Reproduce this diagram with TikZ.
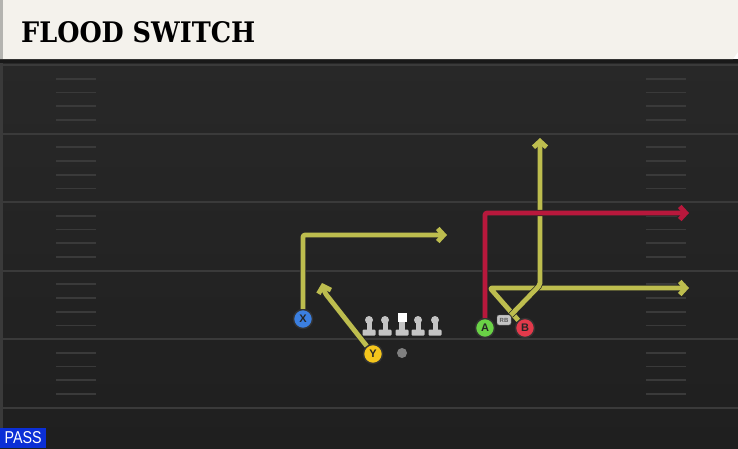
\documentclass[tikz,border=0pt]{standalone}
\usepackage{fontspec}
\usepackage{graphicx}
\usetikzlibrary{arrows.meta,positioning}
\newfontfamily\titlefont{DejaVu Serif}
\newfontfamily\labelfont{Liberation Sans}
\definecolor{fieldtop}{HTML}{282828}
\definecolor{fieldbot}{HTML}{1F1F1F}
\definecolor{fieldedge}{HTML}{3A3A3A}
\definecolor{lineclr}{HTML}{3A3A3A}
\definecolor{headerbg}{HTML}{F4F2EC}
\definecolor{headeredge}{HTML}{B4B4B0}
\definecolor{passblue}{HTML}{0B2FD6}
\definecolor{olive}{HTML}{BDBD4E}
\definecolor{crimson}{HTML}{B8183C}
\definecolor{xblue}{HTML}{3B7FE0}
\definecolor{yyellow}{HTML}{F4C51C}
\definecolor{agreen}{HTML}{6AD246}
\definecolor{bred}{HTML}{E23A4B}
\definecolor{olgray}{HTML}{C4C4C4}

\begin{document}
\begin{tikzpicture}[x=1pt,y=-1pt]
  \tikzstyle{player} = [circle, draw=black!80, line width=1.4pt, minimum size=19pt, inner sep=0pt,
    font=\labelfont\bfseries\fontsize{11}{11}\selectfont, text=black!85]
  \tikzstyle{route} = [line width=4.8pt, line join=round, rounded corners=2pt,
    -{Straight Barb[length=6pt,width=13pt]}, preaction={draw=black!85, line width=6.2pt}]
  \tikzstyle{yardline} = [lineclr, line width=2pt]
  \tikzstyle{hashmark} = [lineclr, line width=1.6pt]
  \tikzstyle{olman} = [fill=olgray]

  \useasboundingbox (0,0) rectangle (738,448);
  % field
  \shade[top color=fieldtop, bottom color=fieldbot] (0,59) rectangle (738,448);
  \fill[fieldedge] (0,59) rectangle (3,448);
  \fill[black!90] (0,59) rectangle (738,63);
  \foreach \y in {65,133.5,202,270.5,339,407.5}
    \draw[yardline] (3,\y) -- (738,\y);
  \foreach \y in {65,133.5,202,270.5,339}
    \foreach \k in {1,2,3,4} {
      \draw[hashmark] (56,\y+\k*13.75) -- (96,\y+\k*13.75);
      \draw[hashmark] (646,\y+\k*13.75) -- (686,\y+\k*13.75);
    }

  % header
  \fill[headerbg] (0,0) -- (738,0) -- (738,52) -- (733,59) -- (0,59) -- cycle;
  \fill[headeredge] (0,0) rectangle (3,59);
  \node[anchor=west, inner sep=0pt] (title) at (21,32)
    {\resizebox{234pt}{21pt}{\titlefont\bfseries FLOOD SWITCH}};

  % pass tag
  \node[anchor=south west, fill=passblue, text=white, minimum width=46pt, minimum height=20pt,
    inner sep=0pt] (pass) at (0,448) {\resizebox{37pt}{12pt}{\labelfont PASS}};

  % line
  \foreach \x in {369,385,418,435} {
    \fill[olman] (\x,320) circle (4);
    \fill[olman] (\x-2.5,322) rectangle (\x+2.5,331);
    \fill[olman, rounded corners=1pt] (\x-6.5,329.5) rectangle (\x+6.5,335.5);
  }
  \fill[white] (397.5,313) rectangle (406.5,322);
  \fill[olman] (399,322) rectangle (405,331);
  \fill[olman, rounded corners=1pt] (395.5,329.5) rectangle (408.5,335.5);
  \node[circle, fill=black!50, minimum size=10pt, inner sep=0pt] (ball) at (402,353) {};

  % players
  \node[player, fill=xblue] (X) at (303,319) {X};
  \node[player, fill=yyellow] (Y) at (373,354) {Y};
  \node[player, fill=agreen] (A) at (485,328) {A};
  \node[player, fill=bred] (B) at (525,328) {B};
  \node[fill=olgray, draw=black!60, rounded corners=2pt, minimum width=14pt, minimum height=10pt,
    inner sep=0pt, font=\labelfont\bfseries\fontsize{6}{6}\selectfont, text=black!65] (RB) at (504,320) {RB};

  % routes
  \coordinate (xc) at (303,235);
  \coordinate (xe) at (447,235);
  \coordinate (yc) at (325,293);
  \coordinate (ye) at (322,283);
  \coordinate (ac) at (485,213);
  \coordinate (ae) at (689,213);
  \coordinate (bc) at (490,288);
  \coordinate (be) at (689,288);
  \coordinate (rc) at (540,285);
  \coordinate (re) at (540,138);

  \draw[route, olive] (X) -- (xc) -- (xe);
  \draw[route, olive] (Y) -- (yc) -- (ye);
  \draw[route, olive] (B) -- (bc) -- (be);
  \draw[route, olive] (RB.north east) -- (rc) -- (re);
  \draw[route, crimson] (A) -- (ac) -- (ae);
\end{tikzpicture}
\end{document}
